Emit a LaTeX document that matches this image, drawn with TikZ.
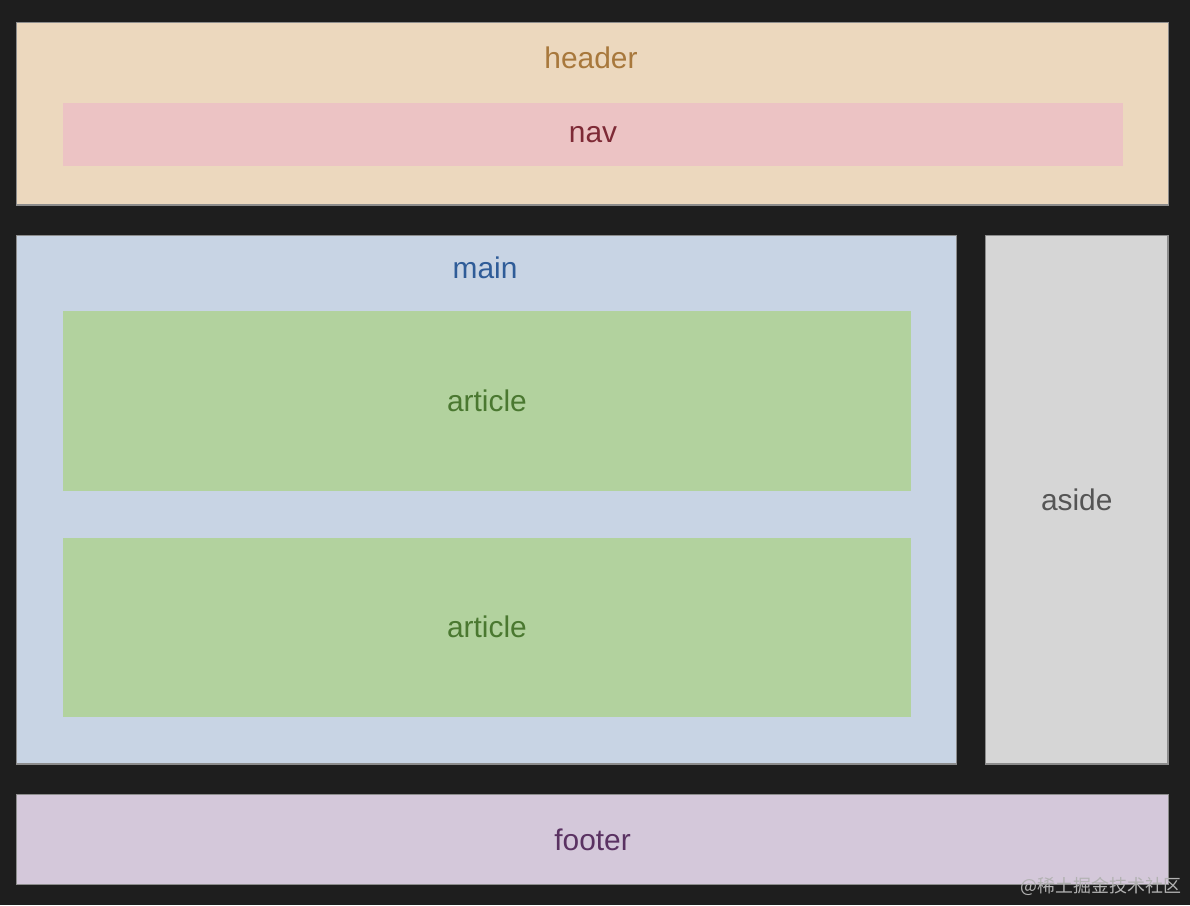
\documentclass[tikz,border=0pt]{standalone}
\usepackage{fontspec}
\setmainfont{Liberation Sans}
\newfontfamily\cjkfont{Noto Sans CJK SC}
\usepackage{xcolor}
\usetikzlibrary{positioning}
\definecolor{pagedark}{HTML}{1E1E1E}
\definecolor{headerfill}{HTML}{ECD8BE}
\definecolor{headertext}{HTML}{A8783C}
\definecolor{navfill}{HTML}{ECC3C4}
\definecolor{navtext}{HTML}{7E2A36}
\definecolor{mainfill}{HTML}{C8D4E4}
\definecolor{maintext}{HTML}{2F5C98}
\definecolor{articlefill}{HTML}{B2D29E}
\definecolor{articletext}{HTML}{4A7830}
\definecolor{asidefill}{HTML}{D6D6D6}
\definecolor{asidetext}{HTML}{555555}
\definecolor{footerfill}{HTML}{D4C8DA}
\definecolor{footertext}{HTML}{5A3262}
\tikzset{
  region/.style={rectangle, draw=black!45, line width=0.4pt, inner sep=0pt,
                 anchor=north west},
  inner/.style={rectangle, inner sep=0pt, anchor=north west},
  lbl/.style={inner sep=0pt, font=\fontsize{8.5}{10}\selectfont}
}
\begin{document}
\begin{tikzpicture}[x=0.01cm, y=-0.01cm]
  \useasboundingbox[fill=pagedark] (0,0) rectangle (1190,905);

  % header with nav
  \node[region, fill=headerfill, minimum width=11.51cm, minimum height=1.82cm] (header) at (16,22) {};
  \node[lbl, text=headertext] (headerlbl) at (591,58) {header};
  \node[inner, fill=navfill, minimum width=10.60cm, minimum height=0.63cm] (nav) at (62,102) {};
  \node[lbl, text=navtext] (navlbl) at (nav.center) {nav};

  % main with two articles
  \node[region, fill=mainfill, minimum width=9.39cm, minimum height=5.28cm] (main) at (16,235) {};
  \node[lbl, text=maintext] (mainlbl) at (485,268) {main};
  \node[inner, fill=articlefill, minimum width=8.48cm, minimum height=1.80cm] (article1) at (62,310) {};
  \node[lbl, text=articletext] (article1lbl) at (article1.center) {article};
  \node[inner, fill=articlefill, minimum width=8.48cm, minimum height=1.79cm] (article2) at (62,537) {};
  \node[lbl, text=articletext] (article2lbl) at (article2.center) {article};

  % aside
  \node[region, fill=asidefill, minimum width=1.82cm, minimum height=5.28cm] (aside) at (985,235) {};
  \node[lbl, text=asidetext] (asidelbl) at (aside.center) {aside};

  % footer
  \node[region, fill=footerfill, minimum width=11.51cm, minimum height=0.90cm] (footer) at (16,794) {};
  \node[lbl, text=footertext] (footerlbl) at (footer.center) {footer};

  % watermark
  \node[inner sep=0pt, anchor=east, text=black!30, font=\cjkfont\fontsize{5.1}{6}\selectfont] (mark) at (1182,886) {@稀土掘金技术社区};
\end{tikzpicture}
\end{document}
